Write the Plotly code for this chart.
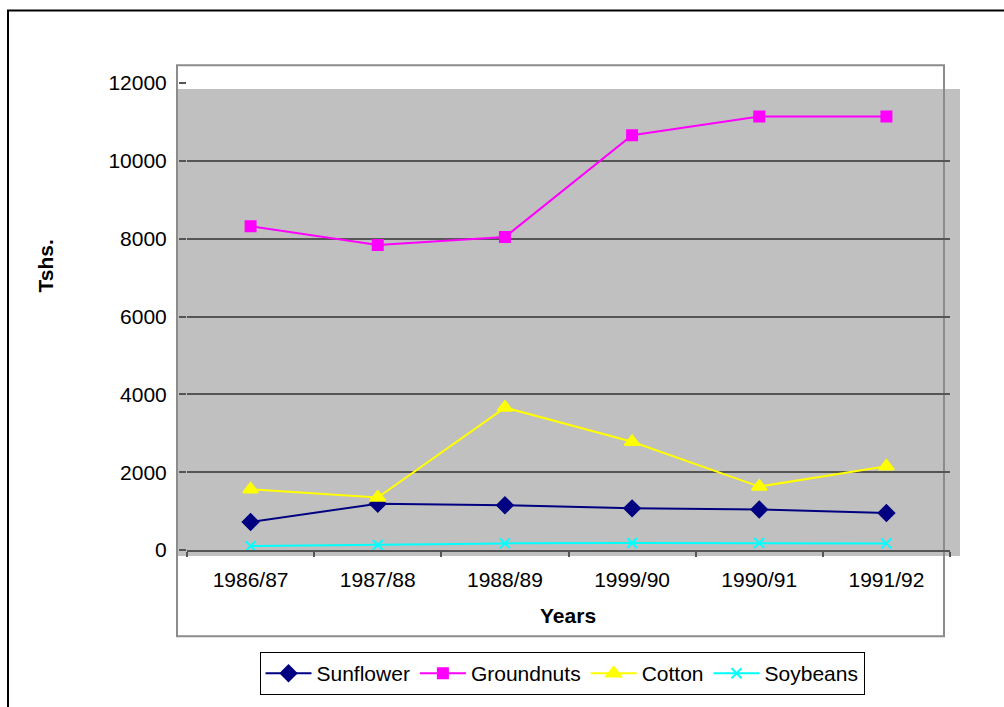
import plotly.graph_objects as go

# Crop seasons on the category axis
seasons = ["1986/87", "1987/88", "1988/89", "1999/90", "1990/91", "1991/92"]

# Values in Tshs.
sunflower = [720, 1190, 1150, 1070, 1040, 950]
groundnuts = [8320, 7840, 8040, 10660, 11140, 11140]
cotton = [1560, 1350, 3660, 2780, 1630, 2150]
soybeans = [100, 130, 170, 180, 180, 170]

y_ticks = [0, 2000, 4000, 6000, 8000, 10000, 12000]

W, H = 1004, 707
L, R, T, B = 187, 54, 83, 153
PW, PH = W - L - R, H - T - B


def px(x):
    return (x - L) / PW


def py(y):
    return (H - B - y) / PH


FONT = "Liberation Sans, Arial, sans-serif"
FS = 21

fig = go.Figure()

series = [
    ("Sunflower", sunflower, "#000080", "diamond", 12),
    ("Groundnuts", groundnuts, "#FF00FF", "square", 10),
    ("Cotton", cotton, "#FFFF00", "triangle-up", 13),
    ("Soybeans", soybeans, "#00FFFF", "x-thin-open", 10),
]
for name, vals, color, sym, size in series:
    fig.add_trace(go.Scatter(
        x=seasons, y=vals, name=name, mode="lines+markers",
        line=dict(color=color, width=2),
        marker=dict(symbol=sym, size=size, color=color,
                    line=dict(color=color, width=2)),
    ))

shapes = [
    # outer chart border
    dict(type="rect", xref="paper", yref="paper",
         x0=px(8), x1=px(1012), y0=py(10), y1=py(716),
         line=dict(color="#000000", width=2), layer="below"),
    # grey plot background
    dict(type="rect", xref="paper", yref="paper",
         x0=px(176), x1=px(960), y0=py(560), y1=py(89),
         fillcolor="#C0C0C0", line=dict(width=0), layer="below"),
    # plot area frame
    dict(type="rect", xref="paper", yref="paper",
         x0=px(177), x1=px(944), y0=py(641), y1=py(65),
         line=dict(color="#8C8C8C", width=2), layer="below"),
]

annotations = [
    dict(text="<b>Years</b>", xref="paper", yref="paper",
         x=px(568), y=py(620), xanchor="center", yanchor="middle",
         showarrow=False,
         font=dict(size=FS, color="#000000", family=FONT)),
    dict(text="<b>Tshs.</b>", xref="paper", yref="paper",
         x=px(45), y=py(268), xanchor="center", yanchor="middle",
         showarrow=False, textangle=-90,
         font=dict(size=FS, color="#000000", family=FONT)),
]

fig.update_layout(
    width=W, height=H,
    margin=dict(l=L, r=R, t=T, b=B, pad=0),
    paper_bgcolor="#FFFFFF",
    plot_bgcolor="rgba(0,0,0,0)",
    font=dict(family=FONT, size=FS, color="#000000"),
    shapes=shapes,
    annotations=annotations,
    showlegend=True,
    legend=dict(
        orientation="h", xanchor="center", yanchor="top",
        x=px(562), y=py(657),
        bgcolor="#FFFFFF", bordercolor="#000000", borderwidth=1,
        font=dict(size=FS, family=FONT),
        itemwidth=46,
        tracegroupgap=0,
    ),
    xaxis=dict(
        type="category", range=[-0.5, 5.5],
        showgrid=False, zeroline=False,
        showline=True, linecolor="#555555", linewidth=2,
        ticks="outside", tickson="boundaries", ticklen=5,
        tickcolor="#555555", tickwidth=1.5,
        ticklabelstandoff=10,
        tickfont=dict(size=FS, family=FONT),
    ),
    yaxis=dict(
        range=[0, 12000], tickvals=y_ticks,
        ticktext=[str(v) for v in y_ticks],
        showgrid=True, gridcolor="#555555", gridwidth=1.5,
        zeroline=False, showline=False,
        ticks="outside", ticklen=7, tickcolor="#555555", tickwidth=1.5,
        ticklabelstandoff=8,
        tickfont=dict(size=FS, family=FONT),
    ),
)

fig.write_html("out.html")
